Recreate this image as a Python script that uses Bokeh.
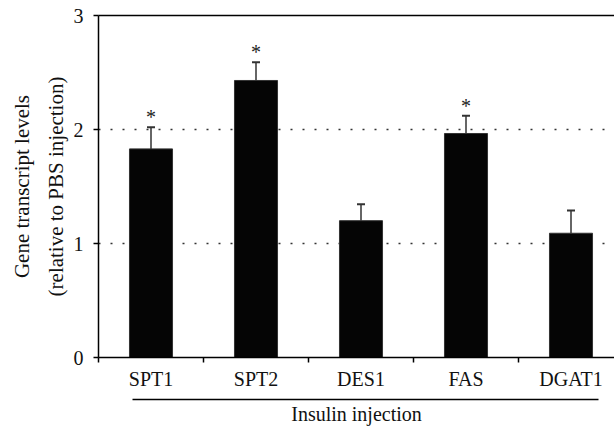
from bokeh.plotting import figure
from bokeh.models import Range1d, FixedTicker, LinearAxis, Whisker, TeeHead, ColumnDataSource
from bokeh.core.properties import value
from bokeh.embed import file_html
from bokeh.resources import INLINE

# Gene transcript levels after insulin injection (relative to PBS injection)
genes = ["SPT1", "SPT2", "DES1", "FAS", "DGAT1"]
levels = [1.83, 2.43, 1.20, 1.965, 1.09]
sem = [0.19, 0.16, 0.145, 0.155, 0.20]
significant = [True, True, False, True, False]
y_ticks = [0, 1, 2, 3]
group_label = "Insulin injection"

FONT = "Liberation Serif"
FS = "20px"

centers = [i + 0.5 for i in range(len(genes))]
tops = [v + e for v, e in zip(levels, sem)]
src = ColumnDataSource(dict(x=centers, level=levels, top=tops, gene=genes))

p = figure(width=614, height=427, x_range=Range1d(0, 516 / 105), y_range=Range1d(0, 3),
           output_backend="svg", toolbar_location=None,
           min_border_left=98, min_border_right=0, min_border_top=15, min_border_bottom=70,
           outline_line_color=None, background_fill_color="white")

# dotted reference lines at 1 and 2
p.xgrid.visible = False
p.ygrid.ticker = FixedTicker(ticks=[1, 2])
p.ygrid.grid_line_color = "#333333"
p.ygrid.grid_line_dash = "2 10"
p.ygrid.grid_line_width = 1.5

p.vbar(x="x", top="level", width=0.41, source=src, fill_color="#050505",
       line_color="#333333", line_width=1)

p.add_layout(Whisker(source=src, base="x", lower="level", upper="top",
                     lower_head=None,
                     upper_head=TeeHead(size=8, line_color="#333333", line_width=2),
                     line_color="#333333", line_width=1.5))

sig = ColumnDataSource(dict(x=[c for c, s in zip(centers, significant) if s],
                            y=[t for t, s in zip(tops, significant) if s]))
p.text(x="x", y="y", text=value("*"), source=sig, text_align="center",
       text_baseline="bottom", text_font=value(FONT), text_font_size="20px",
       text_color="#222222", y_offset=1)

# y axis
ya = p.yaxis[0]
ya.ticker = FixedTicker(ticks=y_ticks)
ya.major_tick_out = 5
ya.major_tick_in = 0
ya.minor_tick_line_color = None
ya.axis_line_width = 1.5
ya.major_tick_line_width = 1.5
ya.axis_line_color = "black"
ya.major_label_text_font = FONT
ya.major_label_text_font_size = FS
ya.major_label_text_color = "#111111"
ya.major_label_standoff = 10
ya.axis_label = "Gene transcript levels\n(relative to PBS injection)"
ya.axis_label_text_font = FONT
ya.axis_label_text_font_size = "21px"
ya.axis_label_text_font_style = "normal"
ya.axis_label_text_color = "#111111"
ya.axis_label_text_line_height = 1.4
ya.axis_label_standoff = 3

# x axis: gene labels at bar centres, boundary ticks between categories
xa = p.xaxis[0]
xa.ticker = FixedTicker(ticks=centers, minor_ticks=list(range(len(genes))))
xa.major_label_overrides = {c: g for c, g in zip(centers, genes)}
xa.major_tick_out = 7
xa.major_tick_in = 0
xa.major_tick_line_color = None
xa.minor_tick_out = 5
xa.minor_tick_in = 0
xa.minor_tick_line_color = "black"
xa.minor_tick_line_width = 1.5
xa.axis_line_width = 1.5
xa.axis_line_color = "black"
xa.major_label_standoff = 3
xa.major_label_text_font = FONT
xa.major_label_text_font_size = FS
xa.major_label_text_color = "#111111"
xa.axis_label = " "
xa.axis_label_text_font_size = "1px"
xa.axis_label_standoff = 3

# group line with its caption
ga = LinearAxis(ticker=FixedTicker(ticks=[]), bounds=(0.32, 4.76),
                axis_line_color="black", axis_line_width=1.5,
                major_tick_line_color=None, minor_tick_line_color=None,
                axis_label=group_label, axis_label_standoff=3,
                axis_label_text_font=FONT, axis_label_text_font_size=FS,
                axis_label_text_font_style="normal", axis_label_text_color="#111111")
p.add_layout(ga, "below")

# top frame line
ta = LinearAxis(ticker=FixedTicker(ticks=[]), axis_line_color="black", axis_line_width=1.5,
                major_tick_line_color=None, minor_tick_line_color=None,
                major_label_text_font_size="0px")
p.add_layout(ta, "above")

open("out.html", "w").write(file_html(p, INLINE))
